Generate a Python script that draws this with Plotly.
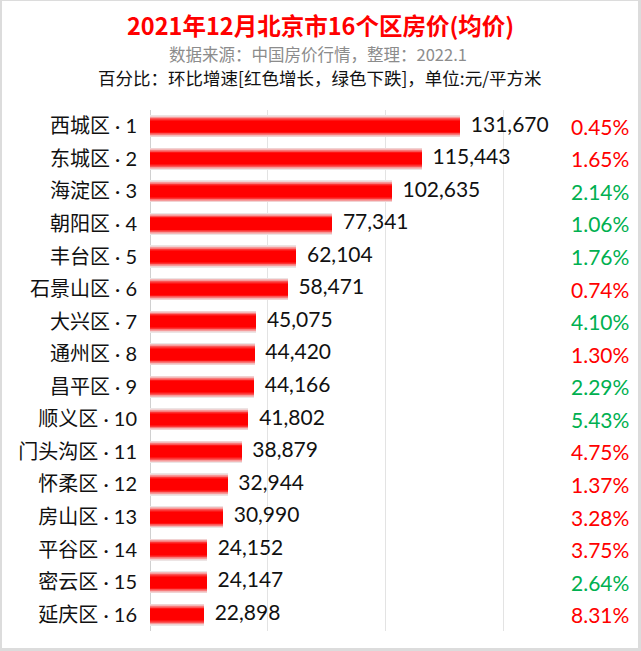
import plotly.graph_objects as go

districts = ["西城区", "东城区", "海淀区", "朝阳区", "丰台区", "石景山区", "大兴区", "通州区",
             "昌平区", "顺义区", "门头沟区", "怀柔区", "房山区", "平谷区", "密云区", "延庆区"]
prices = [131670, 115443, 102635, 77341, 62104, 58471, 45075, 44420,
          44166, 41802, 38879, 32944, 30990, 24152, 24147, 22898]
mom_pct = [0.45, 1.65, 2.14, 1.06, 1.76, 0.74, 4.10, 1.30,
           2.29, 5.43, 4.75, 1.37, 3.28, 3.75, 2.64, 8.31]
mom_dir = ["up", "up", "down", "down", "down", "up", "down", "up",
           "down", "down", "up", "up", "up", "up", "down", "up"]

title = "2021年12月北京市16个区房价(均价)"
subtitle = "数据来源：中国房价行情，整理：2022.1"
note = "百分比：环比增速[红色增长，绿色下跌]，单位:元/平方米"

labels = [f"{d} · {i+1}" for i, d in enumerate(districts)]

W, H = 641, 651
ML, MR, MT, MB = 150, 20, 110, 20
pw, ph = W - ML - MR, H - MT - MB

def px_x(px):
    return (px - ML) / pw

def px_y(py):
    return (H - MB - py) / ph

CJK = "Noto Sans CJK SC"
NUM = "Lato, Noto Sans CJK SC"

fig = go.Figure()

# gradient-like bars: stacked overlays, wide/light to narrow/red
layers = [
    (0.68, "#ece4e4"),
    (0.64, "#f1d2d2"),
    (0.60, "#f4b8b8"),
    (0.56, "#f69a9a"),
    (0.52, "#f87a7a"),
    (0.48, "#fa5656"),
    (0.44, "#fc3434"),
    (0.40, "#fe1616"),
    (0.34, "#ff0000"),
]
for w, c in layers:
    fig.add_trace(go.Bar(
        y=labels, x=prices, orientation="h", width=w,
        marker=dict(color=c, line=dict(width=0)),
        hoverinfo="skip", showlegend=False,
    ))

fig.add_trace(go.Scatter(
    y=labels, x=prices, mode="text",
    text=["\u00a0\u00a0" + f"{v:,}" for v in prices],
    textposition="middle right",
    textfont=dict(family=NUM, size=21, color="#111111"),
    cliponaxis=False, showlegend=False, hoverinfo="skip",
))

annotations = []
for lab, p, d in zip(labels, mom_pct, mom_dir):
    annotations.append(dict(
        xref="paper", yref="y", x=px_x(631), y=lab,
        xanchor="right", yanchor="middle", showarrow=False,
        text=f"{p:.2f}%",
        font=dict(family=NUM, size=21, color="#ff0000" if d == "up" else "#00b050"),
    ))

annotations += [
    dict(xref="paper", yref="paper", x=px_x(320.5), y=px_y(25),
         xanchor="center", yanchor="middle", showarrow=False, borderpad=0,
         text=f"<b>{title}</b>",
         font=dict(family=CJK, size=23.5, color="#ff0000")),
    dict(xref="paper", yref="paper", x=px_x(318), y=px_y(54),
         xanchor="center", yanchor="middle", showarrow=False, borderpad=0,
         text=subtitle,
         font=dict(family=CJK, size=16.5, color="#8c8c8c")),
    dict(xref="paper", yref="paper", x=px_x(320), y=px_y(77),
         xanchor="center", yanchor="middle", showarrow=False, borderpad=0,
         text=note,
         font=dict(family=CJK, size=17.5, color="#111111")),
]

shapes = [
    dict(type="rect", xref="paper", yref="paper", layer="below",
         x0=px_x(2), x1=px_x(638), y0=px_y(648), y1=px_y(1),
         fillcolor="white", line=dict(width=0)),
]

fig.update_layout(
    width=W, height=H,
    margin=dict(l=ML, r=MR, t=MT, b=MB, pad=0),
    paper_bgcolor="#dcdcdc", plot_bgcolor="white",
    barmode="overlay", bargap=0,
    showlegend=False,
    annotations=annotations, shapes=shapes,
    xaxis=dict(range=[0, 200000], dtick=50000, showticklabels=False,
               showgrid=True, gridcolor="#e3e3e3", gridwidth=1,
               zeroline=True, zerolinecolor="#d0d0d0", zerolinewidth=1,
               showline=False, fixedrange=True),
    yaxis=dict(range=[len(labels) - 0.5, -0.5], showgrid=False, showline=False,
               tickfont=dict(family=NUM, size=20, color="#111111"),
               ticks="", ticklabelstandoff=12, fixedrange=True),
)

fig.write_html("out.html")
